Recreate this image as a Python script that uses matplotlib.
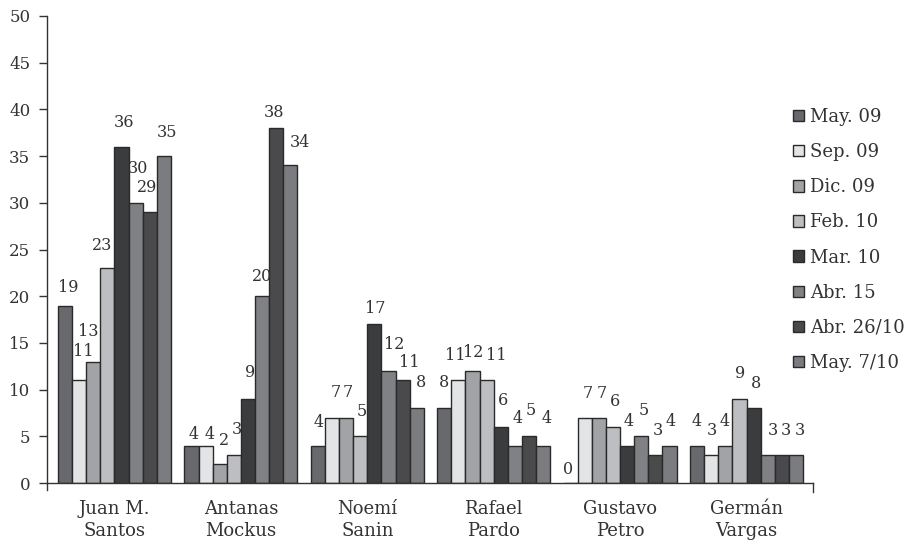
import matplotlib
matplotlib.use("Agg")
import matplotlib.pyplot as plt
import numpy as np

plt.rcParams['font.family'] = ['DejaVu Serif']

candidates = ["Juan M.\nSantos", "Antanas\nMockus", "Noemí\nSanin", "Rafael\nPardo", "Gustavo\nPetro", "Germán\nVargas"]
series_names = ["May. 09", "Sep. 09", "Dic. 09", "Feb. 10", "Mar. 10", "Abr. 15", "Abr. 26/10", "May. 7/10"]
may09 = [19, 4, 4, 8, 0, 4]
sep09 = [11, 4, 7, 11, 7, 3]
dic09 = [13, 2, 7, 12, 7, 4]
feb10 = [23, 3, 5, 11, 6, 9]
mar10 = [36, 9, 17, 6, 4, 8]
abr15 = [30, 20, 12, 4, 5, 3]
abr26 = [29, 38, 11, 5, 3, 3]
may7 = [35, 34, 8, 4, 4, 3]
series = [may09, sep09, dic09, feb10, mar10, abr15, abr26, may7]
colors = ["#68696d", "#e3e4e6", "#a2a3a6", "#bdbec1", "#3b3c3e", "#808184", "#4a4a4d", "#7b7c80"]

# label placement offsets (pixels) per candidate, per series: (dx, dy of label centre above bar top)
lab_dy = [[18, 29, 30, 23, 24, 34, 25, 24],
          [11, 11, 24, 25, 26, 20, 16, 23],
          [23, 25, 25, 25, 16, 26, 18, 26],
          [26, 25, 18, 25, 26, 27, 26, 27],
          [13, 24, 24, 25, 24, 26, 24, 24],
          [24, 24, 24, 25, 25, 24, 24, 24]]
lab_dx = [[3, 4, -5, -5, 2, 2, -3, 3],
          [2, 4, 4, 3, 2, 0, -2, 10],
          [1, 4, 2, 2, 1, 6, 7, 4],
          [0, -3, 1, 10, 2, 3, 2, 3],
          [-3, 3, 3, 2, 1, 2, 2, 1],
          [0, 1, -1, 1, 2, 5, 4, 4]]

W, H = 907, 552
fig = plt.figure(figsize=(W / 100, H / 100), dpi=100)
ax_l, ax_r, ax_b, ax_t = 47, 813, 483, 16
ax = fig.add_axes([ax_l / W, 1 - ax_b / H, (ax_r - ax_l) / W, (ax_b - ax_t) / H])

x = np.arange(len(candidates))
span = 0.894
w = span / 8
txtcol = "#333333"
for k, (vals, col, name) in enumerate(zip(series, colors, series_names)):
    pos = x - span / 2 + w * (k + 0.5)
    ax.bar(pos, vals, w, color=col, edgecolor="#2a2a2a", linewidth=1.0, label=name)
    for i, (xp, v) in enumerate(zip(pos, vals)):
        ax.annotate(str(v), (xp, v), xytext=(lab_dx[i][k], lab_dy[i][k]), textcoords="offset pixels",
                    ha="center", va="center", fontsize=11.5, color=txtcol)

ax.set_xlim(-0.534, 5.526)
ax.set_ylim(0, 50)
ax.set_yticks(range(0, 51, 5))
ax.set_xticks(x)
ax.set_xticklabels(candidates, fontsize=13, color=txtcol, linespacing=1.3)
ax.tick_params(axis='x', length=0, pad=12)
ax.tick_params(axis='y', direction='out', length=6, width=1, colors=txtcol, labelsize=12, pad=6)
for s in ['top', 'right']:
    ax.spines[s].set_visible(False)
for s in ['left', 'bottom']:
    ax.spines[s].set_color(txtcol)
    ax.spines[s].set_linewidth(1.0)
ax.spines['left'].set_bounds(-0.75, 50)
ax.plot([5.526, 5.526], [0, -1.0], color=txtcol, lw=1.0, clip_on=False)

leg = ax.legend(loc="center left", bbox_to_anchor=(793 / W, 1 - 240 / H), bbox_transform=fig.transFigure,
                frameon=False, fontsize=13, handlelength=0.6, handleheight=0.6,
                handletextpad=0.35, labelspacing=0.95, borderaxespad=0, borderpad=0)
for t in leg.get_texts():
    t.set_color(txtcol)

fig.savefig("out.png", dpi=100)
